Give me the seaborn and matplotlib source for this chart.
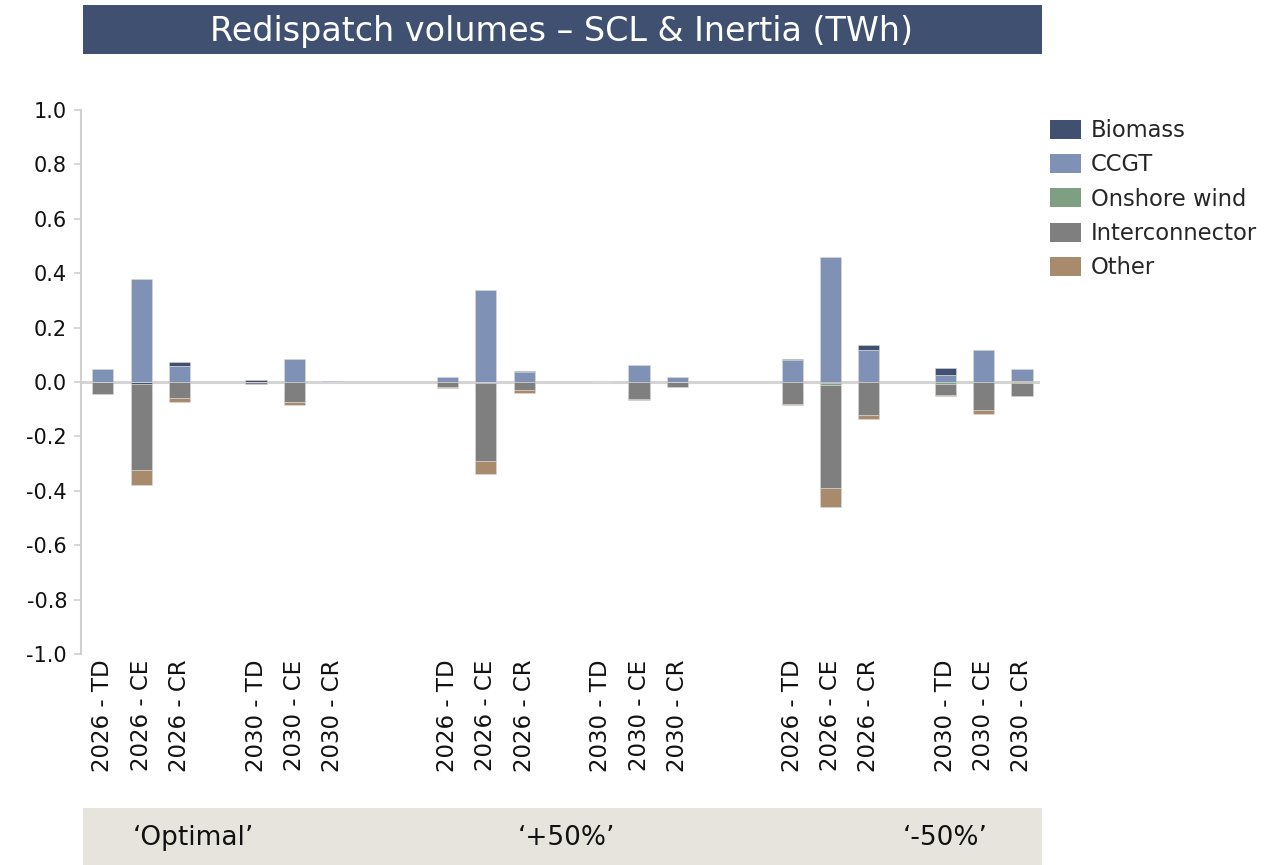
import numpy as np
import pandas as pd
import matplotlib
matplotlib.use("Agg")
import matplotlib.pyplot as plt
from matplotlib.patches import Rectangle, Patch
import seaborn as sns

# ---------------- data ----------------
groups = ["\u2018Optimal\u2019", "\u2018+50%\u2019", "\u2018-50%\u2019"]
cases = ["2026 - TD", "2026 - CE", "2026 - CR", "2030 - TD", "2030 - CE", "2030 - CR"]
series = ["Biomass", "CCGT", "Onshore wind", "Interconnector", "Other"]
yticks = [-1.0, -0.8, -0.6, -0.4, -0.2, 0.0, 0.2, 0.4, 0.6, 0.8, 1.0]
ytick_labels = ["-1.0", "-0.8", "-0.6", "-0.4", "-0.2", "0.0", "0.2", "0.4", "0.6", "0.8", "1.0"]

biomass = [0.0, -0.007, 0.017, 0.007, 0.0, 0.0,
           0.0, -0.005, 0.007, 0.0, 0.0, 0.0,
           0.004, -0.005, 0.017, 0.026, 0.003, 0.0]
ccgt = [0.049, 0.380, 0.058, 0.0, 0.086, 0.004,
        0.018, 0.340, 0.035, 0.0, 0.064, 0.017,
        0.082, 0.460, 0.119, 0.027, 0.116, 0.045]
onshore = [0.0, 0.0, 0.0, 0.0, 0.0, 0.0,
           0.0, 0.0, 0.0, 0.0, 0.0, 0.0,
           0.0, -0.006, 0.0, -0.006, 0.0, -0.003]
interconnector = [-0.043, -0.318, -0.058, -0.007, -0.073, 0.0,
                  -0.018, -0.284, -0.030, 0.0, -0.062, -0.020,
                  -0.080, -0.378, -0.120, -0.041, -0.103, -0.050]
other = [0.0, -0.053, -0.014, 0.0, -0.012, 0.0,
         -0.004, -0.050, -0.010, 0.0, -0.005, 0.0,
         -0.006, -0.069, -0.016, -0.005, -0.016, 0.004]

colors = {"Biomass": "#3F5070", "CCGT": "#7F91B5", "Onshore wind": "#7F9F83",
          "Interconnector": "#7F7F7F", "Other": "#A88B6D"}

values = {"Biomass": biomass, "CCGT": ccgt, "Onshore wind": onshore,
          "Interconnector": interconnector, "Other": other}

# slot positions: 3 bars, gap, 3 bars, larger gap ...
positions = []
for g in range(3):
    base = g * 9
    positions += [base + 0, base + 1, base + 2, base + 4, base + 5, base + 6]
positions = np.array(positions, dtype=float)
labels = cases * 3

# stacking order (positive from zero upward / negative from zero downward)
pos_order = ["Other", "Interconnector", "Onshore wind", "CCGT", "Biomass"]
neg_order = ["Biomass", "CCGT", "Onshore wind", "Interconnector", "Other"]

n = len(positions)
bottoms = {}
pos_acc = np.zeros(n)
for s in pos_order:
    v = np.array(values[s])
    b = np.zeros(n)
    m = v > 0
    b[m] = pos_acc[m]
    pos_acc[m] += v[m]
    bottoms[s] = b
neg_acc = np.zeros(n)
for s in neg_order:
    v = np.array(values[s])
    m = v < 0
    bottoms[s][m] = neg_acc[m]
    neg_acc[m] += v[m]

# ---------------- figure ----------------
sns.set_theme(style="white")
plt.rcParams["font.family"] = ["DejaVu Sans"]

fig = plt.figure(figsize=(12.66, 8.65), dpi=100)
L, R, T, B = 81, 1040, 110, 654
W, H = 1266, 865
ax = fig.add_axes([L / W, 1 - B / H, (R - L) / W, (B - T) / H])

ax.axhline(0, color="#D4D4D4", lw=2.2, zorder=0.5)
for s in series:
    df = pd.DataFrame({"pos": positions, "val": values[s], "bottom": bottoms[s]}).sort_values("pos")
    sns.barplot(data=df, x="pos", y="val", native_scale=True, width=0.55,
                color=colors[s], saturation=1, errorbar=None,
                bottom=df["bottom"].values, edgecolor=(0.86, 0.86, 0.86, 0.6),
                linewidth=0.6, ax=ax)

ax.set_ylim(-1.0, 1.0)
ax.set_xlim(-0.57, 24.47)
ax.set_yticks(yticks)
ax.set_yticklabels(ytick_labels, fontsize=15)
ax.set_xticks(positions)
ax.set_xticklabels(labels, rotation=90, fontsize=16.5)
ax.set_xlabel("")
ax.set_ylabel("")
for sp in ["top", "right", "bottom"]:
    ax.spines[sp].set_visible(False)
ax.spines["left"].set_color("#D0D0D0")
ax.spines["left"].set_linewidth(1.5)
ax.tick_params(axis="y", which="both", left=True, length=5, width=1.2,
               color="#D0D0D0", pad=5, labelcolor="#111111")
ax.tick_params(axis="x", which="both", bottom=False, length=0, pad=4,
               labelcolor="#111111")
ax.grid(False)

# title banner
fig.patches.append(Rectangle((83 / W, 1 - 54 / H), (1042 - 83) / W, 49 / H,
                             transform=fig.transFigure, facecolor="#3F5070",
                             edgecolor="none", zorder=0))
fig.text(562 / W, 1 - 31 / H, "Redispatch volumes \u2013 SCL & Inertia (TWh)",
         ha="center", va="center", color="white", fontsize=24)

# bottom banner
fig.patches.append(Rectangle((83 / W, 0), (1042 - 83) / W, 57 / H,
                             transform=fig.transFigure, facecolor="#E7E4DE",
                             edgecolor="none", zorder=0))
for g, xc in zip(groups, [193, 566, 945]):
    fig.text(xc / W, 1 - 838 / H, g, ha="center", va="center",
             color="#111111", fontsize=19)

# legend
handles = [Patch(facecolor=colors[s], edgecolor="none", label=s) for s in series]
fig.legend(handles=handles, loc="upper left",
           bbox_to_anchor=(1050 / W, 1 - 119 / H), frameon=False,
           fontsize=16.3, handlelength=1.38, handleheight=0.9,
           handletextpad=0.42, labelspacing=0.5, borderpad=0,
           borderaxespad=0)

fig.savefig("out.png", dpi=100)
